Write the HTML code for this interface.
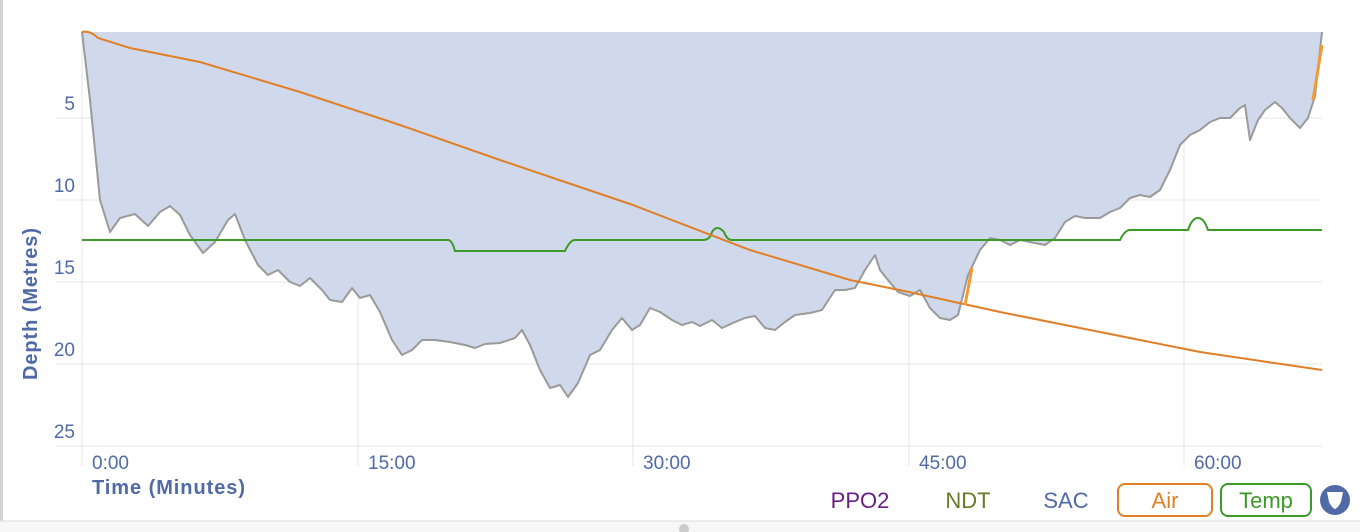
<!DOCTYPE html>
<html><head><style>
body{margin:0;background:#fff;width:1360px;height:532px;overflow:hidden;font-family:"Liberation Sans",sans-serif}
</style></head><body>
<svg width="1360" height="532" xmlns="http://www.w3.org/2000/svg" style="position:absolute;left:0;top:0">
<rect x="0" y="0" width="3" height="532" fill="#d4d4d4"/>
<rect x="0" y="521" width="1360" height="11" fill="#f7f7f7"/>
<line x1="0" y1="521" x2="1360" y2="521" stroke="#ddd"/>
<g stroke="#e4e4e4" stroke-width="1">
<line x1="56" y1="118" x2="1322" y2="118"/><line x1="56" y1="200" x2="1322" y2="200"/>
<line x1="56" y1="282" x2="1322" y2="282"/><line x1="56" y1="364" x2="1322" y2="364"/>
<line x1="56" y1="446" x2="1322" y2="446"/>
<line x1="82" y1="32" x2="82" y2="466"/><line x1="358" y1="32" x2="358" y2="466"/>
<line x1="633" y1="32" x2="633" y2="466"/><line x1="909" y1="32" x2="909" y2="466"/>
<line x1="1184" y1="32" x2="1184" y2="466"/>
</g>
<defs><path id="p" d="M82,32 L90,100 L100,200 L110,232 L120,218 L135,214 L148,226 L160,212 L170,206 L180,215 L190,235 L203,253 L215,242 L228,220 L235,214 L245,240 L258,265 L268,275 L278,270 L290,282 L300,286 L310,278 L322,290 L330,300 L342,302 L352,288 L360,298 L370,295 L380,312 L392,340 L402,355 L412,350 L422,340 L435,340 L450,342 L465,345 L475,348 L485,344 L500,343 L515,338 L522,330 L530,345 L540,370 L550,388 L560,385 L568,397 L578,383 L590,355 L600,350 L612,330 L622,318 L632,330 L640,325 L650,308 L660,312 L672,320 L682,325 L692,322 L700,326 L712,320 L722,328 L735,322 L745,318 L755,316 L765,328 L775,330 L785,322 L795,315 L810,313 L822,310 L835,290 L845,290 L855,288 L865,270 L875,255 L880,270 L888,280 L898,292 L910,296 L920,290 L930,308 L940,318 L950,320 L958,315 L968,275 L980,250 L990,238 L1000,240 L1010,245 L1020,240 L1030,242 L1045,245 L1055,238 L1065,222 L1075,216 L1085,218 L1100,218 L1110,212 L1120,208 L1130,198 L1140,195 L1150,197 L1160,190 L1170,170 L1180,145 L1190,135 L1200,130 L1210,122 L1220,118 L1230,118 L1240,108 L1245,105 L1250,140 L1258,120 L1265,110 L1275,102 L1282,108 L1290,118 L1300,128 L1308,118 L1315,96 L1322,32"/></defs>
<use href="#p" fill="#d0d9eb" stroke="none"/>
<use href="#p" fill="none" stroke="#9a9a9a" stroke-width="2" stroke-linejoin="round"/>
<path fill="none" stroke="#3c9a27" stroke-width="2" d="M82,240 L448,240 Q452,240 455,251 L565,251 Q570,240 575,240 L703,240 Q710,240 712,232 Q717,224 724,232 Q727,240 732,240 L1120,240 Q1125,230 1130,230 L1188,230 Q1192,218 1198,218 Q1204,218 1208,230 L1322,230"/>
<path fill="none" stroke="#e07f26" stroke-width="2" d="M82,32 Q90,30 98,38 L130,48 L200,62 L300,92 L400,125 L500,160 L633,205 L750,250 L850,280 L909,292 L1000,312 L1100,332 L1200,352 L1322,370"/>
<line x1="965" y1="305" x2="972" y2="268" stroke="#f39a34" stroke-width="3"/>
<line x1="1313" y1="100" x2="1322" y2="45" stroke="#f39a34" stroke-width="3"/>
<g fill="#4f6aa6" font-size="19" text-anchor="end">
<text x="75" y="110">5</text><text x="75" y="192">10</text><text x="75" y="274">15</text><text x="75" y="356">20</text><text x="75" y="438">25</text>
</g>
<g fill="#4f6aa6" font-size="19">
<text x="92" y="469">0:00</text><text x="368" y="469">15:00</text><text x="643" y="469">30:00</text><text x="919" y="469">45:00</text><text x="1194" y="469">60:00</text>
</g>
<text x="92" y="494" fill="#4f6aa6" font-size="20" font-weight="bold" textLength="153">Time (Minutes)</text>
<text transform="translate(37,304) rotate(-90)" fill="#4f6aa6" font-size="20" font-weight="bold" text-anchor="middle" textLength="152">Depth (Metres)</text>
<g font-size="22" text-anchor="middle">
<text x="860" y="508" fill="#6a1f86">PPO2</text>
<text x="968" y="508" fill="#6b7a26">NDT</text>
<text x="1066" y="508" fill="#4f6aa6">SAC</text>
<rect x="1118" y="484" width="94" height="32" rx="7" fill="none" stroke="#e07f26" stroke-width="2"/>
<text x="1165" y="508" fill="#e07f26">Air</text>
<rect x="1221" y="484" width="90" height="32" rx="7" fill="none" stroke="#3c9a27" stroke-width="2"/>
<text x="1266" y="508" fill="#3c9a27">Temp</text>
</g>
<circle cx="1335" cy="500" r="15" fill="#4f6aa6"/>
<path d="M1327,492 L1343,492 L1341,502 Q1338,508 1335,509 Q1332,508 1329,502 Z" fill="#fff"/>
<circle cx="684" cy="529" r="5" fill="#ccc"/>
</svg>
</body></html>
